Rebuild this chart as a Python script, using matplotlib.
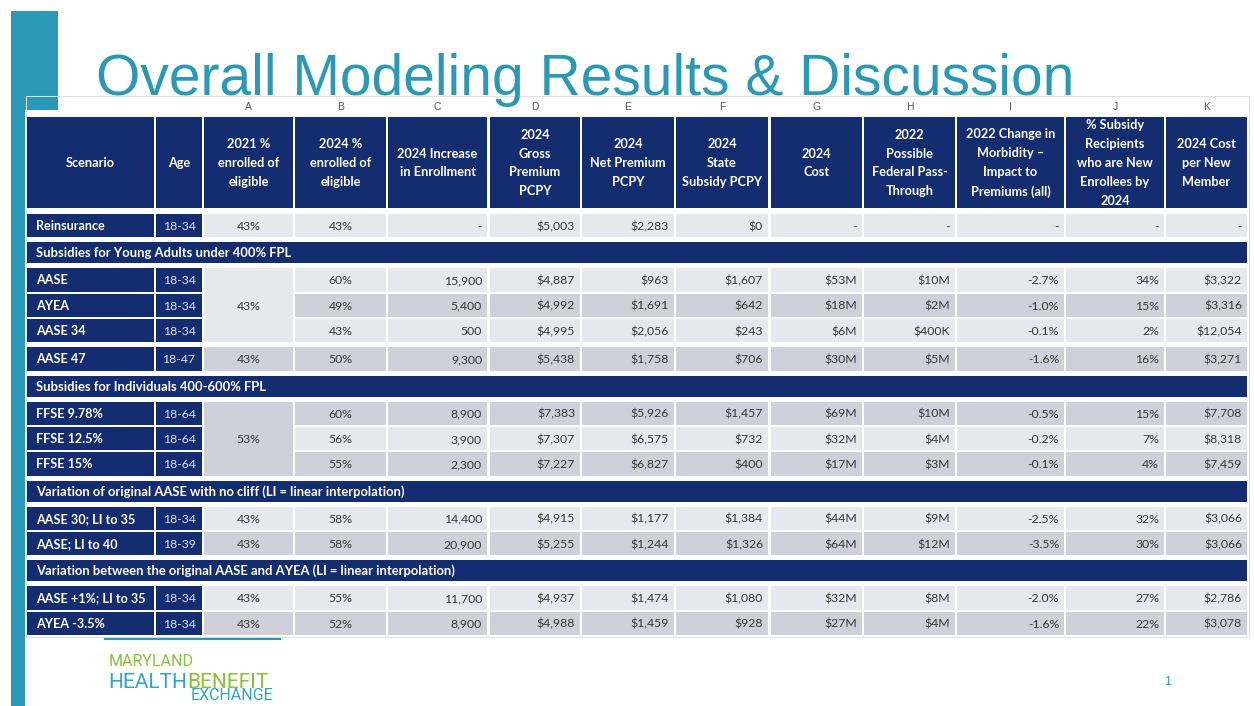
import matplotlib.pyplot as plt
from matplotlib.patches import Rectangle

# ---- data -------------------------------------------------------------
col_letters = ["A", "B", "C", "D", "E", "F", "G", "H", "I", "J", "K"]
headers = ["Scenario", "Age", "2021 %\nenrolled of\neligible", "2024 %\nenrolled of\neligible",
           "2024 Increase\nin Enrollment", "2024\nGross\nPremium\nPCPY", "2024\nNet Premium\nPCPY",
           "2024\nState\nSubsidy PCPY", "2024\nCost", "2022\nPossible\nFederal Pass-\nThrough",
           "2022 Change in\nMorbidity \u2013\nImpact to\nPremiums (all)",
           "% Subsidy\nRecipients\nwho are New\nEnrollees by\n2024", "2024 Cost\nper New\nMember"]

scenarios = ["Reinsurance", "AASE", "AYEA", "AASE 34", "AASE 47", "FFSE 9.78%", "FFSE 12.5%",
             "FFSE 15%", "AASE 30; LI to 35", "AASE; LI to 40", "AASE +1%; LI to 35", "AYEA -3.5%"]
ages = ["18-34", "18-34", "18-34", "18-34", "18-47", "18-64", "18-64", "18-64",
        "18-34", "18-39", "18-34", "18-34"]
enrolled_2021 = ["43%", "43%", "43%", "43%", "43%", "53%", "53%", "53%", "43%", "43%", "43%", "43%"]
enrolled_2024 = ["43%", "60%", "49%", "43%", "50%", "60%", "56%", "55%", "58%", "58%", "55%", "52%"]
increase = ["-", "15,900", "5,400", "500", "9,300", "8,900", "3,900", "2,300",
            "14,400", "20,900", "11,700", "8,900"]
gross_prem = ["$5,003", "$4,887", "$4,992", "$4,995", "$5,438", "$7,383", "$7,307", "$7,227",
              "$4,915", "$5,255", "$4,937", "$4,988"]
net_prem = ["$2,283", "$963", "$1,691", "$2,056", "$1,758", "$5,926", "$6,575", "$6,827",
            "$1,177", "$1,244", "$1,474", "$1,459"]
state_subsidy = ["$0", "$1,607", "$642", "$243", "$706", "$1,457", "$732", "$400",
                 "$1,384", "$1,326", "$1,080", "$928"]
cost_2024 = ["-", "$53M", "$18M", "$6M", "$30M", "$69M", "$32M", "$17M", "$44M", "$64M", "$32M", "$27M"]
pass_through = ["-", "$10M", "$2M", "$400K", "$5M", "$10M", "$4M", "$3M", "$9M", "$12M", "$8M", "$4M"]
morbidity = ["-", "-2.7%", "-1.0%", "-0.1%", "-1.6%", "-0.5%", "-0.2%", "-0.1%",
             "-2.5%", "-3.5%", "-2.0%", "-1.6%"]
pct_new = ["-", "34%", "15%", "2%", "16%", "15%", "7%", "4%", "32%", "30%", "27%", "22%"]
cost_per_new = ["-", "$3,322", "$3,316", "$12,054", "$3,271", "$7,708", "$8,318", "$7,459",
                "$3,066", "$3,066", "$2,786", "$3,078"]

section_titles = ["Subsidies for Young Adults under 400% FPL",
                  "Subsidies for Individuals 400-600% FPL",
                  "Variation of original AASE with no cliff (LI = linear interpolation)",
                  "Variation between the original AASE and AYEA (LI = linear interpolation)"]
section_start = [1, 5, 8, 10]          # row index where each section begins
row_group = [0, 1, 1, 1, 2, 3, 3, 3, 4, 4, 5, 5]
merged_2021 = [[1, 2, 3], [5, 6, 7]]   # column A cells merged over these rows
row_shade = [0, 0, 1, 0, 1, 1, 0, 1, 0, 1, 0, 1]

# ---- style / layout ---------------------------------------------------
TEAL = "#2a99b6"
NAVY = "#142c70"
LIGHT = "#e7e8ed"
DARK = "#cfd0da"
TXT = "#383838"
FONT = "Lato"
FS_DATA = 8.8
BASE_OFF = 4.4   # px from cell middle down to text baseline

col_x = [(27, 154), (156, 202), (204, 293), (295, 386), (388, 487), (490, 580), (582, 674),
         (676, 768), (771, 862), (864, 955), (957, 1064), (1066, 1164), (1166, 1247)]
row_h, band_h, gap_in, gap_out = 23.33, 21, 2, 5

fig = plt.figure(figsize=(12.54, 7.06), dpi=100)
ax = fig.add_axes([0, 0, 1, 1])
ax.set_xlim(0, 1254)
ax.set_ylim(706, 0)
ax.axis("off")


def box(x0, x1, y0, y1, color, **kw):
    ax.add_patch(Rectangle((x0, y0), x1 - x0, y1 - y0, facecolor=color, edgecolor="none", **kw))


def cell_text(x, mid, s, ha, **kw):
    ax.text(x, mid + BASE_OFF, s, ha=ha, va="baseline", family=FONT, **kw)


# left teal bar
box(11, 25, 11, 706, TEAL)
box(11, 58, 11, 110, TEAL)

# title
ax.text(96, 95, "Overall Modeling Results & Discussion", color=TEAL, fontsize=41,
        family="Liberation Sans", ha="left", va="baseline")

# table frame
ax.add_patch(Rectangle((26, 96), 1223, 541, facecolor="none", edgecolor="#dde0ea", lw=0.8))
box(26.5, 58, 96.5, 110, TEAL)

# column letters
for (x0, x1), letter in zip(col_x[2:], col_letters):
    ax.text((x0 + x1) / 2, 107, letter, ha="center", va="center", fontsize=7.5,
            color="#555555", family="Liberation Sans")

# header row
for (x0, x1), h in zip(col_x, headers):
    box(x0, x1, 117, 208, NAVY)
    ax.text((x0 + x1) / 2, 163, h, ha="center", va="center", fontsize=9.2, color="white",
            family=FONT, weight="bold", linespacing=1.68)

# row positions
tops = []
y = 214
for i in range(len(scenarios)):
    if i > 0:
        if i in section_start:
            y += gap_out
            s = section_start.index(i)
            box(col_x[0][0], col_x[-1][1], y, y + band_h, NAVY)
            cell_text(36, y + band_h / 2, section_titles[s], "left", fontsize=9.4,
                      color="white", weight="bold")
            y += band_h + gap_out
        elif row_group[i] == row_group[i - 1]:
            y += gap_in
        else:
            y += gap_out
    tops.append(y)
    y += row_h

columns = [enrolled_2021, enrolled_2024, increase, gross_prem, net_prem, state_subsidy,
           cost_2024, pass_through, morbidity, pct_new, cost_per_new]
merged_rows = {r for grp in merged_2021 for r in grp}

for i, top in enumerate(tops):
    bot = top + row_h
    mid = (top + bot) / 2
    fill = DARK if row_shade[i] else LIGHT
    # scenario + age
    box(*col_x[0], top, bot, NAVY)
    cell_text(col_x[0][0] + 9, mid, scenarios[i], "left", fontsize=9.1, color="white",
              weight="bold")
    box(*col_x[1], top, bot, NAVY)
    cell_text(sum(col_x[1]) / 2, mid, ages[i], "center", fontsize=FS_DATA, color="#dde2ee")
    for j, vals in enumerate(columns):
        x0, x1 = col_x[j + 2]
        if j == 0 and i in merged_rows:
            continue
        box(x0, x1, top, bot, fill)
        if j < 2:
            cell_text((x0 + x1) / 2, mid, vals[i], "center", fontsize=FS_DATA, color=TXT)
        else:
            cell_text(x1 - 5, mid, vals[i], "right", fontsize=FS_DATA, color=TXT)

# merged column A cells
for grp in merged_2021:
    top = tops[grp[0]]
    bot = tops[grp[-1]] + row_h
    x0, x1 = col_x[2]
    box(x0, x1, top, bot, DARK if row_shade[grp[0]] else LIGHT)
    cell_text((x0 + x1) / 2, (top + bot) / 2, enrolled_2021[grp[0]], "center",
              fontsize=FS_DATA, color=TXT)

# footer line + logo + page number
ax.plot([105, 280], [639, 639], color=TEAL, lw=1.5)
ax.text(109, 666, "MARYLAND", color="#86c23a", fontsize=11.5, family="Roboto",
        ha="left", va="baseline")
health = ax.text(108, 688, "HEALTH", color="#2fa6c6", fontsize=15, family="Roboto",
                 ha="left", va="baseline")
renderer = fig.canvas.get_renderer()
bb = health.get_window_extent(renderer).transformed(ax.transData.inverted())
ax.text(max(bb.x0, bb.x1) + 0.5, 688, "BENEFIT", color="#86c23a", fontsize=15, family="Roboto",
        ha="left", va="baseline")
ax.text(191, 700, "EXCHANGE", color="#2fa6c6", fontsize=11.5, family="Roboto",
        ha="left", va="baseline")
ax.text(1168, 682, "1", color=TEAL, fontsize=9, family="Liberation Sans", ha="center", va="center")

fig.savefig("out.png", dpi=100)
